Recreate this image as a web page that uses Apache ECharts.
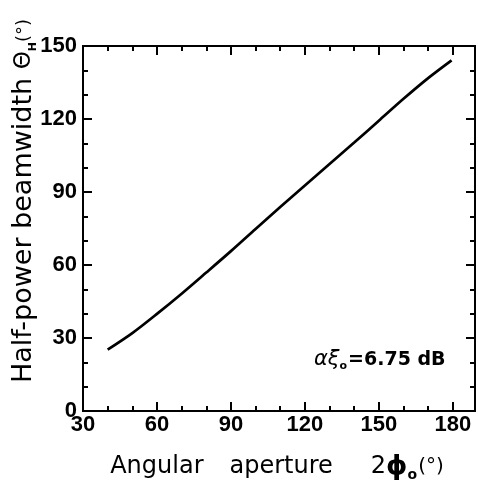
<!DOCTYPE html>
<html>
<head>
<meta charset="utf-8">
<script src="https://cdn.jsdelivr.net/npm/echarts@6/dist/echarts.min.js"></script>
<style>
  html, body { margin: 0; padding: 0; background: #fff; }
  #chart { width: 478px; height: 486px; }
</style>
</head>
<body>
<div id="chart"></div>
<script>
// angular aperture 2phi0 (deg) vs half-power beamwidth (deg)
var apertures = [40, 50, 60, 70, 80, 90, 100, 110, 120, 130, 140, 150, 160, 170, 179.5];
var beamwidths = [25.2, 32.0, 39.9, 48.2, 56.9, 65.7, 74.8, 83.8, 92.7, 101.5, 110.3, 119.3, 128.3, 136.8, 144.1];

var xMin = 30, xMax = 189, xStep = 30, xMinor = 10;
var yMin = 0, yMax = 150, yStep = 30;

var points = [];
for (var i = 0; i < apertures.length; i++) {
    points.push([apertures[i], beamwidths[i]]);
}

var tickFont = 'Liberation Sans';
var titleFont = 'DejaVu Sans';

// x axes: major + minor ticks, bottom and top
function xAxisOf(pos, step, len, labels) {
    return {
        type: 'value',
        position: pos,
        min: xMin,
        max: xMax,
        interval: step,
        axisLine: { show: true, onZero: false, lineStyle: { color: '#000', width: 2 } },
        axisTick: { show: true, inside: true, length: len, lineStyle: { color: '#000', width: 2 } },
        axisLabel: {
            show: labels,
            showMaxLabel: false,
            margin: 3,
            color: '#000',
            fontFamily: tickFont,
            fontWeight: 'bold',
            fontSize: 22
        },
        splitLine: { show: false }
    };
}

function yAxisOf(pos, labels) {
    return {
        type: 'value',
        position: pos,
        min: yMin,
        max: yMax,
        interval: yStep,
        axisLine: { show: true, onZero: false, lineStyle: { color: '#000', width: 2 } },
        axisTick: { show: true, inside: true, length: 9, lineStyle: { color: '#000', width: 2 } },
        minorTick: { show: true, splitNumber: 3, length: 5, lineStyle: { color: '#000', width: 2 } },
        axisLabel: {
            show: labels,
            margin: 6,
            color: '#000',
            fontFamily: tickFont,
            fontWeight: 'bold',
            fontSize: 22
        },
        splitLine: { show: false },
        minorSplitLine: { show: false }
    };
}

var chart = echarts.init(document.getElementById('chart'));
var option = {
    backgroundColor: '#fff',
    animation: false,
    grid: { left: 83, right: 3, top: 46, bottom: 75 },
    xAxis: [
        xAxisOf('bottom', xStep, 9, true),
        xAxisOf('bottom', xMinor, 5, false),
        xAxisOf('top', xStep, 9, false),
        xAxisOf('top', xMinor, 5, false)
    ],
    yAxis: [
        yAxisOf('left', true),
        yAxisOf('right', false)
    ],
    graphic: [
        {
            type: 'text',
            x: 24,
            y: 201,
            rotation: Math.PI / 2,
            style: {
                text: '{t|Half-power beamwidth }{g|Θ}{s|H}{d|(°)}',
                align: 'center',
                verticalAlign: 'middle',
                textAlign: 'center',
                textVerticalAlign: 'middle',
                fill: '#000',
                rich: {
                    t: { fontFamily: titleFont, fontSize: 27, lineHeight: 32, fill: '#000' },
                    g: { fontFamily: titleFont, fontSize: 23, lineHeight: 32, fill: '#000' },
                    s: { fontFamily: titleFont, fontSize: 11, fontWeight: 'bold', lineHeight: 14, padding: [18, 0, 0, 0], fill: '#000' },
                    d: { fontFamily: titleFont, fontSize: 18, lineHeight: 32, fill: '#000' }
                }
            }
        },
        {
            type: 'text',
            x: 277,
            y: 467,
            style: {
                text: '{t|Angular}{sp|}{t|aperture}{sp2|}{t|2}{p|ϕ}{s|o}{d|(°)}',
                align: 'center',
                verticalAlign: 'middle',
                textAlign: 'center',
                textVerticalAlign: 'middle',
                fill: '#000',
                rich: {
                    t: { fontFamily: titleFont, fontSize: 24, lineHeight: 30, fill: '#000' },
                    sp: { width: 26, lineHeight: 30 },
                    sp2: { width: 38, lineHeight: 30 },
                    p: { fontFamily: titleFont, fontSize: 27, fontWeight: 'bold', lineHeight: 30, fill: '#000' },
                    s: { fontFamily: titleFont, fontSize: 14, fontWeight: 'bold', lineHeight: 14, padding: [16, 1, 0, 0], fill: '#000' },
                    d: { fontFamily: titleFont, fontSize: 20, lineHeight: 30, fill: '#000' }
                }
            }
        },
        {
            type: 'text',
            x: 314,
            y: 360,
            style: {
                text: '{g|αξ}{s|o}{t|=6.75 dB}',
                align: 'left',
                verticalAlign: 'middle',
                textAlign: 'left',
                textVerticalAlign: 'middle',
                fill: '#000',
                rich: {
                    g: { fontFamily: titleFont, fontSize: 21, fontStyle: 'italic', lineHeight: 26, fill: '#000' },
                    s: { fontFamily: titleFont, fontSize: 11, fontWeight: 'bold', lineHeight: 12, padding: [12, 1, 0, 0], fill: '#000' },
                    t: { fontFamily: titleFont, fontSize: 19, fontWeight: 'bold', lineHeight: 26, fill: '#000' }
                }
            }
        }
    ],
    series: [{
        type: 'line',
        xAxisIndex: 0,
        yAxisIndex: 0,
        data: points,
        smooth: 0.3,
        showSymbol: false,
        lineStyle: { color: '#000', width: 2.7 }
    }]
};
chart.setOption(option);
</script>
</body>
</html>
